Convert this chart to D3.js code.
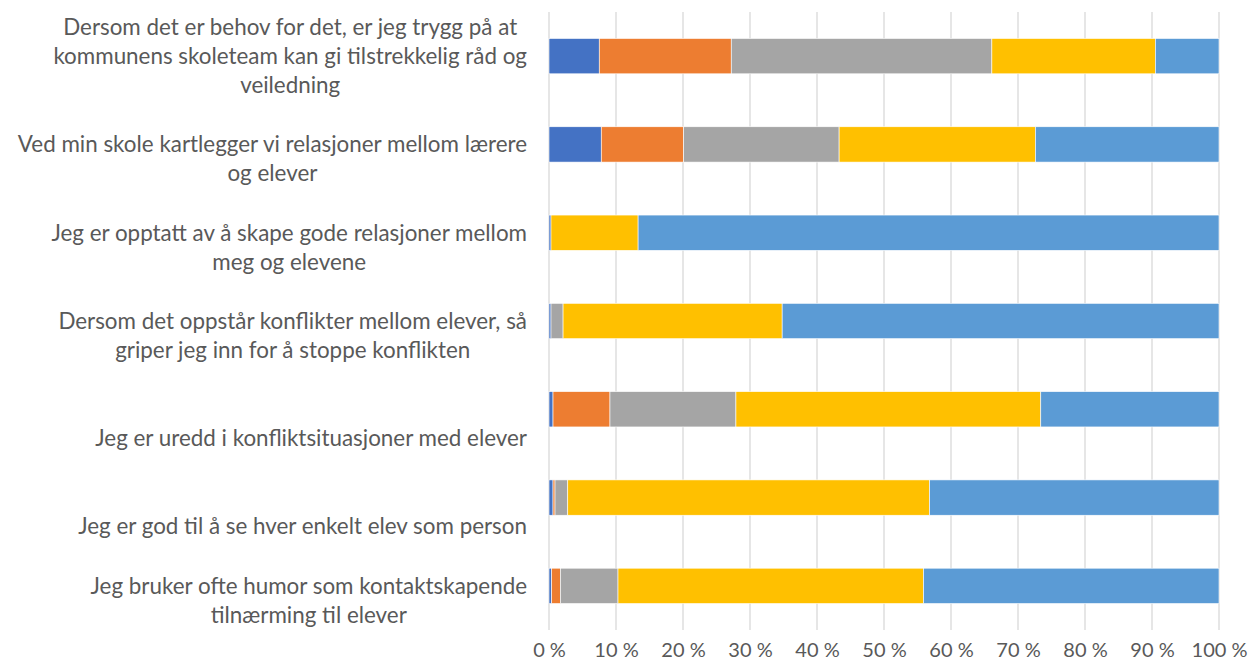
<!DOCTYPE html>
<html lang="en">
<head>
    <meta charset="UTF-8">
    <title></title>
    <script src="https://d3js.org/d3.v7.min.js" charset="utf-8"></script>
    <style>
        body { margin: 0; background: #fff; }
    </style>
</head>
<body>
<script type="text/javascript">

var w = 1250;
var h = 669;
var margin = {top: 12, right: 30, bottom: 39, left: 549};

// statements, top to bottom, with the line breaks used in the picture
var categories = [
    ["Dersom det er behov for det, er jeg trygg på at", "kommunens skoleteam kan gi tilstrekkelig råd og", "veiledning"],
    ["Ved min skole kartlegger vi relasjoner mellom lærere", "og elever"],
    ["Jeg er opptatt av å skape gode relasjoner mellom", "meg og elevene"],
    ["Dersom det oppstår konflikter mellom elever, så", "griper jeg inn for å stoppe konflikten"],
    ["Jeg er uredd i konfliktsituasjoner med elever"],
    ["Jeg er god til å se hver enkelt elev som person"],
    ["Jeg bruker ofte humor som kontaktskapende", "tilnærming til elever"]
];

// share of answers (%) per series, same order as categories
var series1 = [7.5, 7.8, 0.3, 0.3, 0.6, 0.6, 0.4];
var series2 = [19.7, 12.3, 0, 0, 8.5, 0.3, 1.3];
var series3 = [38.9, 23.2, 0, 1.8, 18.8, 1.9, 8.6];
var series4 = [24.4, 29.3, 13.0, 32.7, 45.5, 54.0, 45.6];
var series5 = [9.5, 27.4, 86.7, 65.2, 26.6, 43.2, 44.1];

var tickValues = [0, 0.1, 0.2, 0.3, 0.4, 0.5, 0.6, 0.7, 0.8, 0.9, 1];

var colors = ["#4472c4", "#ed7d31", "#a5a5a5", "#ffc000", "#5b9bd5"];

var rows = categories.map(function(c, i) {
    return {
        idx: i,
        s1: series1[i], s2: series2[i], s3: series3[i], s4: series4[i], s5: series5[i]
    };
});
rows.forEach(function(r) {
    r.total = r.s1 + r.s2 + r.s3 + r.s4 + r.s5;
});

var keys = ["s1", "s2", "s3", "s4", "s5"];
var stack = d3.stack()
    .keys(keys)
    .value(function(d, k) { return d[k] / d.total; });
var layers = stack(rows);

var x = d3.scaleLinear()
    .domain([0, 1])
    .range([margin.left, w - margin.right - 1]);

var y = d3.scaleBand()
    .domain(d3.range(categories.length))
    .range([margin.top, h - margin.bottom])
    .paddingInner(0.6)
    .paddingOuter(0.3);

var font = "Lato, 'Open Sans', sans-serif";

var svg = d3.select("body")
    .append("svg")
    .attr("width", w)
    .attr("height", h)
    .style("font-family", font);

// vertical gridlines
svg.append("g")
    .selectAll("line")
    .data(tickValues)
    .enter()
    .append("line")
    .attr("x1", function(d) { return x(d); })
    .attr("x2", function(d) { return x(d); })
    .attr("y1", margin.top)
    .attr("y2", h - margin.bottom)
    .attr("stroke", "#d9d9d9")
    .attr("stroke-width", 1.3);

// stacked bars
svg.append("g")
    .selectAll("g")
    .data(layers)
    .enter()
    .append("g")
    .attr("fill", function(d, i) { return colors[i]; })
    .selectAll("rect")
    .data(function(d) { return d; })
    .enter()
    .append("rect")
    .attr("x", function(d) { return x(d[0]); })
    .attr("width", function(d) { return Math.max(0, x(d[1]) - x(d[0])); })
    .attr("y", function(d) { return y(d.data.idx); })
    .attr("height", y.bandwidth())
    .attr("stroke", "#ffffff")
    .attr("stroke-width", 0.6);

// x axis tick labels
var xAxis = d3.axisBottom(x)
    .tickValues(tickValues)
    .tickSize(0)
    .tickPadding(13)
    .tickFormat(function(d) { return Math.round(d * 100) + " %"; });

var gx = svg.append("g")
    .attr("transform", "translate(0," + (h - margin.bottom) + ")")
    .call(xAxis);
gx.select(".domain").remove();
gx.selectAll("text")
    .attr("fill", "#595959")
    .style("font-size", "20px")
    .style("font-family", font);

// category labels: lines centred, block right aligned, bottom aligned in a three-line box
var lineH = 29;
var labelRight = 527;
var labels = svg.append("g")
    .selectAll("g")
    .data(categories)
    .enter()
    .append("g");

labels.each(function(lines, i) {
    var g = d3.select(this);
    var yc = y(i) + y.bandwidth() / 2;
    var texts = g.selectAll("text")
        .data(lines)
        .enter()
        .append("text")
        .attr("y", function(d, j) { return yc + lineH - (lines.length - 1 - j) * lineH; })
        .attr("dy", "0.35em")
        .attr("fill", "#595959")
        .style("font-size", "22.4px")
        .text(function(d) { return d; });
    var widths = [];
    texts.each(function() { widths.push(this.getComputedTextLength()); });
    var maxW = d3.max(widths);
    var cx = labelRight - maxW / 2;
    texts.attr("x", cx).attr("text-anchor", "middle");
});

</script>
</body>
</html>
